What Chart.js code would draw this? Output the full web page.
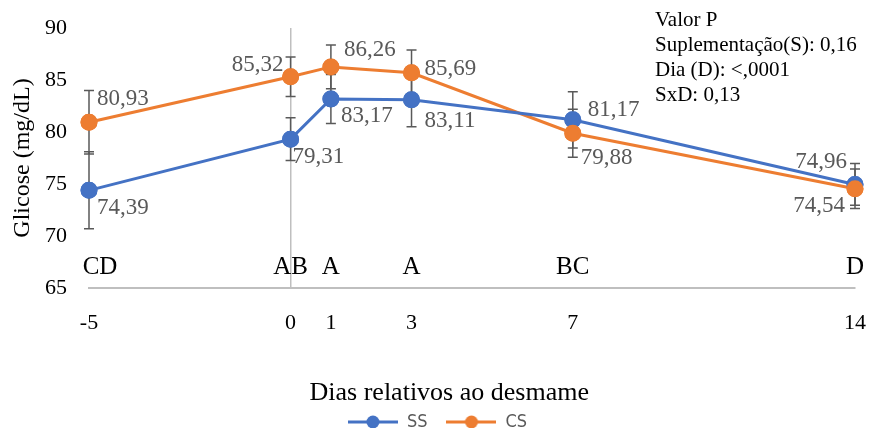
<!DOCTYPE html>
<html>
<head>
<meta charset="UTF-8">
<title>Glicose</title>
<script src="https://cdn.jsdelivr.net/npm/chart.js"></script>
<style>
  html, body { margin: 0; padding: 0; background: #fff; }
  #wrap { width: 872px; height: 428px; }
</style>
</head>
<body>
<div id="wrap"><canvas id="chart"></canvas></div>
<script>
const days = [-5, 0, 1, 3, 7, 14];
const ssValues = [74.39, 79.31, 83.17, 83.11, 81.17, 74.96];
const csValues = [80.93, 85.32, 86.26, 85.69, 79.88, 74.54];
const ssError = [3.7, 2.05, 2.35, 2.6, 2.7, 2.0];
const csError = [3.05, 1.9, 2.1, 2.2, 2.3, 1.9];
const dayLetters = ["CD", "AB", "A", "A", "BC", "D"];
const pValueLines = ["Valor P", "Suplementação(S): 0,16", "Dia (D): <,0001", "SxD: 0,13"];

// label offsets in px from each point: [dx, dy, align]
const ssLabelPos = [[8, 18, "left"], [2, 18, "left"], [10, 17, "left"], [13, 21, "left"], [15, -10, "left"], [-8, -22, "right"]];
const csLabelPos = [[8, -23, "left"], [-7, -12, "right"], [13, -17, "left"], [13, -4, "left"], [8, 25, "left"], [-10, 17, "right"]];

const SERIF = "'Liberation Serif', 'Times New Roman', serif";
const BLUE = "#4472C4";
const ORANGE = "#ED7D31";
const GREY = "#595959";

const fmt = (v) => v.toFixed(2).replace(".", ",");

function legendIcon(color) {
  const c = document.createElement("canvas");
  c.width = 50;
  c.height = 14;
  const g = c.getContext("2d");
  g.strokeStyle = color;
  g.lineWidth = 3;
  g.beginPath();
  g.moveTo(0, 7);
  g.lineTo(50, 7);
  g.stroke();
  g.fillStyle = color;
  g.beginPath();
  g.arc(25, 7, 6.5, 0, Math.PI * 2);
  g.fill();
  return c;
}

const extras = {
  id: "extras",
  afterDatasetsDraw(chart) {
    const { ctx, scales } = chart;
    const x = scales.x, y = scales.y;

    // error bars
    const bars = [[ssValues, ssError], [csValues, csError]];
    ctx.save();
    ctx.strokeStyle = GREY;
    ctx.lineWidth = 1.5;
    bars.forEach(([vals, errs]) => {
      vals.forEach((v, i) => {
        const px = x.getPixelForValue(days[i]);
        const top = y.getPixelForValue(v + errs[i]);
        const bot = y.getPixelForValue(v - errs[i]);
        ctx.beginPath();
        ctx.moveTo(px, top);
        ctx.lineTo(px, bot);
        ctx.moveTo(px - 5, top);
        ctx.lineTo(px + 5, top);
        ctx.moveTo(px - 5, bot);
        ctx.lineTo(px + 5, bot);
        ctx.stroke();
      });
    });
    ctx.restore();

    // redraw points above error bars
    chart.getSortedVisibleDatasetMetas().forEach((meta) => {
      meta.data.forEach((pt) => pt.draw(ctx, chart.chartArea));
    });

    // value labels
    ctx.save();
    ctx.font = "23px " + SERIF;
    ctx.fillStyle = GREY;
    ctx.textBaseline = "middle";
    [[ssValues, ssLabelPos], [csValues, csLabelPos]].forEach(([vals, pos]) => {
      vals.forEach((v, i) => {
        const px = x.getPixelForValue(days[i]);
        const py = y.getPixelForValue(v);
        ctx.textAlign = pos[i][2];
        ctx.fillText(fmt(v), px + pos[i][0], py + pos[i][1]);
      });
    });
    ctx.restore();

    // letters of day comparisons
    ctx.save();
    ctx.font = "25px " + SERIF;
    ctx.fillStyle = "#000";
    ctx.textAlign = "center";
    ctx.textBaseline = "middle";
    dayLetters.forEach((t, i) => {
      const shift = i === 0 ? 11 : 0;
      ctx.fillText(t, x.getPixelForValue(days[i]) + shift, y.getPixelForValue(67));
    });
    ctx.restore();

    // p-value note
    ctx.save();
    ctx.font = "21px " + SERIF;
    ctx.fillStyle = "#000";
    ctx.textAlign = "left";
    ctx.textBaseline = "middle";
    pValueLines.forEach((t, i) => ctx.fillText(t, 655, 20 + i * 25.3));
    ctx.restore();
  }
};

new Chart("chart", {
  type: "line",
  data: {
    datasets: [
      {
        label: "SS",
        data: days.map((d, i) => ({ x: d, y: ssValues[i] })),
        borderColor: BLUE,
        backgroundColor: BLUE,
        borderWidth: 3,
        pointRadius: 7,
        pointHoverRadius: 7,
        clip: false
      },
      {
        label: "CS",
        data: days.map((d, i) => ({ x: d, y: csValues[i] })),
        borderColor: ORANGE,
        backgroundColor: ORANGE,
        borderWidth: 3,
        pointRadius: 7,
        pointHoverRadius: 7,
        clip: false
      }
    ]
  },
  options: {
    responsive: true,
    maintainAspectRatio: false,
    animation: false,
    layout: { padding: { left: 20, right: 17, top: 28, bottom: -13 } },
    plugins: {
      tooltip: { enabled: false },
      legend: {
        position: "bottom",
        labels: {
          usePointStyle: true,
          pointStyleWidth: 50,
          padding: 19,
          color: GREY,
          font: { family: "'DejaVu Sans Condensed', 'Liberation Sans', sans-serif", size: 18 },
          generateLabels(chart) {
            const items = Chart.defaults.plugins.legend.labels.generateLabels(chart);
            items.forEach((it, i) => { it.pointStyle = legendIcon(i === 0 ? BLUE : ORANGE); });
            return items;
          }
        }
      }
    },
    scales: {
      x: {
        type: "linear",
        min: -5,
        max: 14,
        afterBuildTicks(scale) { scale.ticks = days.map((d) => ({ value: d })); },
        afterFit(scale) { scale.height = 106; },
        ticks: {
          font: { family: SERIF, size: 22 },
          color: "#000",
          padding: 0,
          maxRotation: 0,
          autoSkip: false
        },
        grid: {
          color: (c) => (c.tick && c.tick.value === 0 ? "#bfbfbf" : "rgba(0,0,0,0)"),
          lineWidth: 1.5,
          drawTicks: true,
          tickLength: 22,
          tickColor: "rgba(0,0,0,0)"
        },
        border: { color: "#bfbfbf", width: 2 },
        title: {
          display: true,
          text: "Dias relativos ao desmame" + "\u00a0".repeat(7),
          font: { family: SERIF, size: 26 },
          color: "#000",
          padding: { top: 0, bottom: -15 }
        }
      },
      y: {
        min: 65,
        max: 90,
        ticks: {
          stepSize: 5,
          font: { family: SERIF, size: 22 },
          color: "#000",
          padding: 0
        },
        afterFit(scale) { scale.width = 69; },
        grid: { display: false, drawTicks: true, tickLength: 22 },
        border: { display: false },
        title: {
          display: true,
          text: "Glicose (mg/dL)",
          font: { family: SERIF, size: 24 },
          color: "#000",
          padding: { top: -12, bottom: 0 }
        }
      }
    }
  },
  plugins: [extras]
});
</script>
</body>
</html>
